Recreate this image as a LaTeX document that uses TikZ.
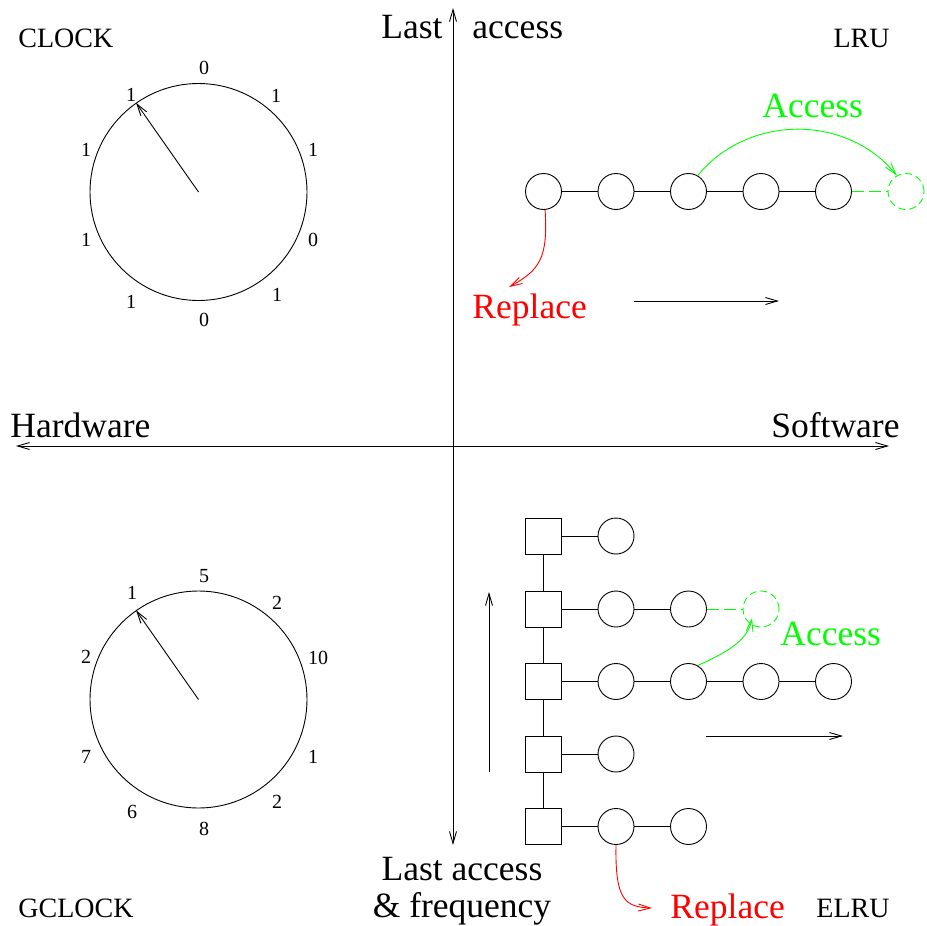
\documentclass[tikz,border=0pt]{standalone}
\usepackage{fontspec}
\setmainfont{Liberation Serif}
\usetikzlibrary{arrows.meta}
\definecolor{grn}{RGB}{0,255,0}
\definecolor{rd}{RGB}{255,0,0}
\begin{document}
\begin{tikzpicture}[x=1pt,y=-1pt,line width=0.9pt,
  >={Straight Barb[length=12pt,width=7pt]},
  big/.style={font=\fontsize{35.5}{40}\selectfont,inner sep=0pt},
  mid/.style={font=\fontsize{28}{32}\selectfont,inner sep=0pt},
  digit/.style={font=\fontsize{20}{22}\selectfont,inner sep=0pt},
  ring/.style={circle,draw,minimum size=36pt,inner sep=0pt},
  box/.style={rectangle,draw,minimum size=36pt,inner sep=0pt},
  ghost/.style={circle,draw=grn,dash pattern=on 7pt off 4pt,minimum size=36pt,inner sep=0pt},
  dial/.style={circle,draw,minimum size=217pt,inner sep=0pt},
  glink/.style={color=grn,line width=1pt,dash pattern=on 12pt off 5pt},
  garrow/.style={grn,->},
  rarrow/.style={rd,->}]
\useasboundingbox (0,0) rectangle (927,926);

% axes
\coordinate (ytop) at (453,8);
\coordinate (ybot) at (453,845);
\coordinate (xleft) at (16,446);
\coordinate (xright) at (889,446);
\draw[<->] (ybot) -- (ytop);
\draw[<->] (xleft) -- (xright);

% axis labels
\node[big,anchor=base east] (last) at (443,38) {Last};
\node[big,anchor=base west] (acc) at (472,38) {access};
\node[big,anchor=base west] (hw) at (10,437) {Hardware};
\node[big,anchor=base east] (sw) at (900,437) {Software};
\node[big,anchor=base] (la2) at (462,880) {Last access};
\node[big,anchor=base] (freq) at (462,917) {\& frequency};

% quadrant titles
\node[mid,anchor=base west] (tclock) at (18,47) {CLOCK};
\node[mid,anchor=base east] (tlru) at (890,47) {LRU};
\node[mid,anchor=base west] (tgclock) at (18,917) {GCLOCK};
\node[mid,anchor=base east] (telru) at (890,917) {ELRU};

% CLOCK
\node[dial] (c1) at (198.5,192) {};
\draw[->] (c1.center) -- (c1.125);
\node[digit] (c1a) at (204,68) {0};
\node[digit] (c1b) at (276,96) {1};
\node[digit] (c1c) at (313,150) {1};
\node[digit] (c1d) at (313,240) {0};
\node[digit] (c1e) at (277,295) {1};
\node[digit] (c1f) at (204,320) {0};
\node[digit] (c1g) at (131,302) {1};
\node[digit] (c1h) at (86,240) {1};
\node[digit] (c1i) at (86,150) {1};
\node[digit] (c1j) at (131,95) {1};

% GCLOCK
\node[dial] (c2) at (198.5,699.5) {};
\draw[->] (c2.center) -- (c2.125);
\node[digit] (c2a) at (204,576) {5};
\node[digit] (c2b) at (277,603) {2};
\node[digit] (c2c) at (318,658) {10};
\node[digit] (c2d) at (313,757) {1};
\node[digit] (c2e) at (277,802) {2};
\node[digit] (c2f) at (204,829) {8};
\node[digit] (c2g) at (132,812) {6};
\node[digit] (c2h) at (86,757) {7};
\node[digit] (c2i) at (86,657) {2};
\node[digit] (c2j) at (132,593) {1};

% LRU
\node[ring] (l1) at (543.5,191.5) {};
\node[ring] (l2) at (616,191.5) {};
\node[ring] (l3) at (688.5,191.5) {};
\node[ring] (l4) at (761,191.5) {};
\node[ring] (l5) at (833.5,191.5) {};
\node[ghost] (l6) at (906,191.5) {};
\draw (l1) -- (l2) -- (l3) -- (l4) -- (l5);
\draw[glink] (l5) -- (l6);
\draw[garrow] (l3.60) .. controls (748,114) and (847,114) .. (l6.120);
\node[big,anchor=base west,text=grn] (lacc) at (762,117) {Access};
\coordinate (rtip1) at (509,287);
\draw[rarrow] (l1.-85) .. controls (548,258) and (540,270) .. (rtip1);
\node[big,anchor=base west,text=rd] (lrep) at (472,318) {Replace};
\coordinate (a1s) at (634,301);
\coordinate (a1e) at (779,301);
\draw[->] (a1s) -- (a1e);

% ELRU
\node[box] (s1) at (543.5,536) {};
\node[box] (s2) at (543.5,609) {};
\node[box] (s3) at (543.5,681.5) {};
\node[box] (s4) at (543.5,754) {};
\node[box] (s5) at (543.5,826.5) {};
\draw (s1) -- (s2) -- (s3) -- (s4) -- (s5);
\node[ring] (e11) at (616,536) {};
\node[ring] (e21) at (616,609) {};
\node[ring] (e22) at (688.5,609) {};
\node[ghost] (e23) at (761,609) {};
\node[ring] (e31) at (616,681.5) {};
\node[ring] (e32) at (688.5,681.5) {};
\node[ring] (e33) at (761,681.5) {};
\node[ring] (e34) at (833.5,681.5) {};
\node[ring] (e41) at (616,754) {};
\node[ring] (e51) at (616,826.5) {};
\node[ring] (e52) at (688.5,826.5) {};
\draw (s1) -- (e11);
\draw (s2) -- (e21) -- (e22);
\draw[glink] (e22) -- (e23);
\draw (s3) -- (e31) -- (e32) -- (e33) -- (e34);
\draw (s4) -- (e41);
\draw (s5) -- (e51) -- (e52);
\coordinate (gtip2) at (752,618);
\draw[garrow] (e32.60) .. controls (728,652) and (748,640) .. (gtip2);
\node[big,anchor=base west,text=grn] (eacc) at (780,645) {Access};
\coordinate (rtip2) at (652,908);
\draw[rarrow] (e51.-90) .. controls (615,900) and (625,907) .. (rtip2);
\node[big,anchor=base west,text=rd] (erep) at (670,918) {Replace};
\coordinate (a2s) at (706,736);
\coordinate (a2e) at (843,736);
\draw[->] (a2s) -- (a2e);
\coordinate (a3s) at (489,772);
\coordinate (a3e) at (489,592);
\draw[->] (a3s) -- (a3e);
\end{tikzpicture}
\end{document}
